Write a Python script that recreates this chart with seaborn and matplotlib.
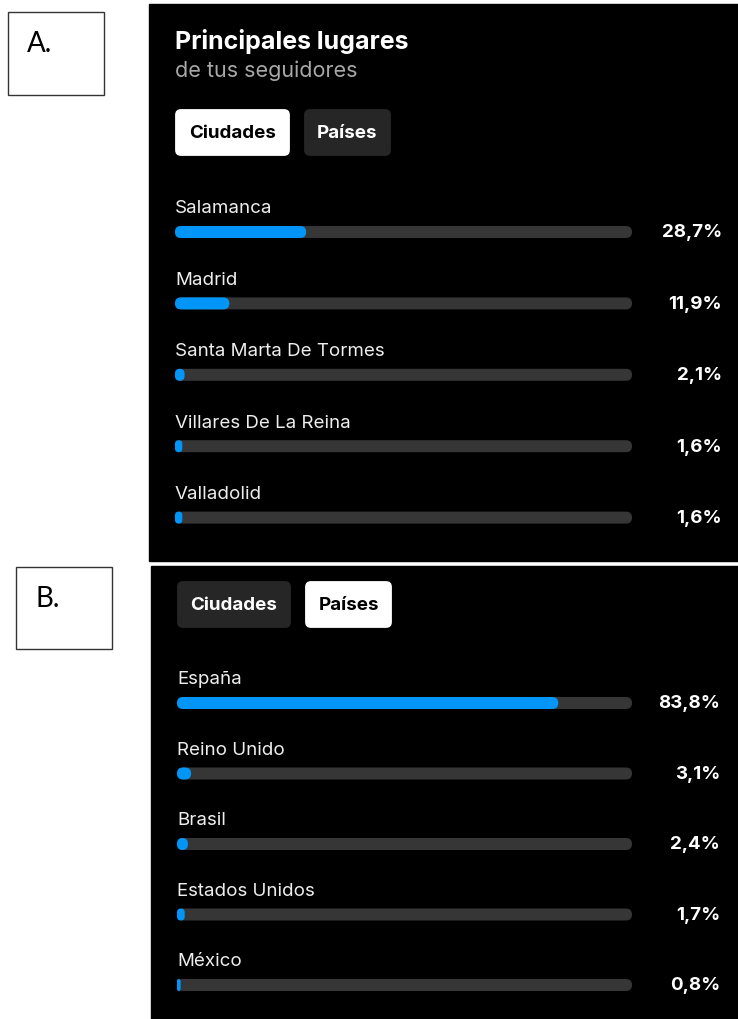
import pandas as pd
import matplotlib.pyplot as plt
import seaborn as sns
from matplotlib.patches import Rectangle, FancyBboxPatch

# data
ciudades = ['Salamanca', 'Madrid', 'Santa Marta De Tormes', 'Villares De La Reina', 'Valladolid']
ciudades_pct = [28.7, 11.9, 2.1, 1.6, 1.6]
paises = ['España', 'Reino Unido', 'Brasil', 'Estados Unidos', 'México']
paises_pct = [83.8, 3.1, 2.4, 1.7, 0.8]

BLUE = '#0095f6'
TRACK = '#363636'
W, H = 738, 1020

sns.set_theme(style='white')
plt.rcParams['font.family'] = ['Inter', 'DejaVu Sans']

fig = plt.figure(figsize=(W / 100, H / 100), dpi=100)
fig.patch.set_facecolor('white')


def px(x, y):
    # pixel position (from top-left) -> figure fraction
    return x / W, 1 - y / H


# black screenshot backgrounds
for (x0, y0, x1, y1) in [(149, 5, 738, 562), (151, 567, 738, 1020)]:
    fig.patches.append(Rectangle(px(x0, y1), (x1 - x0) / W, (y1 - y0) / H,
                                 transform=fig.transFigure, color='black', zorder=-2))

# A. / B. boxes
for lab, (x0, y0, x1, y1) in [('A.', (8, 13, 104, 96)), ('B.', (16, 568, 112, 650))]:
    fig.patches.append(Rectangle(px(x0, y1), (x1 - x0) / W, (y1 - y0) / H,
                                 transform=fig.transFigure, facecolor='white',
                                 edgecolor='#333333', lw=1.0, zorder=-1))
    fig.text(*px(x0 + 19, y0 + 31), lab, fontsize=20, family=['Lato', 'DejaVu Sans'],
             color='black', va='center', ha='left')

# title panel A
fig.text(*px(175, 42), 'Principales lugares', color='white', fontsize=18,
         fontweight='bold', va='center')
fig.text(*px(175, 71), 'de tus seguidores', color='#a8a8a8', fontsize=15.5, va='center')


def button(x0, y0, x1, y1, text, active):
    fc = 'white' if active else '#262626'
    tc = 'black' if active else 'white'
    fig.patches.append(FancyBboxPatch(px(x0 + 6, y1 - 6), (x1 - x0 - 12) / W, (y1 - y0 - 12) / H,
                                      boxstyle='round,pad=0.008,rounding_size=0.008',
                                      transform=fig.transFigure, facecolor=fc,
                                      edgecolor='none', zorder=-1, mutation_aspect=W / H))
    fig.text(*px((x0 + x1) / 2, (y0 + y1) / 2), text, color=tc, fontsize=13.5,
             fontweight='bold', ha='center', va='center')


button(175, 110, 290, 157, 'Ciudades', True)
button(304, 110, 391, 157, 'Países', False)
button(177, 582, 291, 629, 'Ciudades', False)
button(305, 582, 392, 629, 'Países', True)


def round_bars(ax, step, track_px):
    # swap seaborn's square bars for pill-shaped ones with the same extent
    xu = 100 / track_px           # data units per pixel along x
    yu = 1 / step                 # data units per pixel along y
    aspect = yu / xu
    for p in list(ax.patches):
        x, y = p.get_x(), p.get_y()
        w, h = p.get_width(), p.get_height()
        r = min(6 * xu, w / 2)
        pill = FancyBboxPatch((x, y), w, h, boxstyle=f'round,pad=0,rounding_size={r}',
                              mutation_aspect=aspect, facecolor=p.get_facecolor(),
                              edgecolor='none', zorder=p.get_zorder())
        p.remove()
        ax.add_patch(pill)


def panel(names, vals, x0, x1, y_first, step, val_x):
    top = y_first - step / 2
    bottom = y_first + step * 4.5
    l, b = px(x0, bottom)
    ax = fig.add_axes([l, b, (x1 - x0) / W, (bottom - top) / H])
    ax.set_zorder(5)
    ax.set_facecolor('none')
    df = pd.DataFrame({'lugar': names, 'pct': vals, 'total': [100] * len(vals)})
    bh = 12 / step
    sns.barplot(data=df, x='total', y='lugar', color=TRACK, width=bh, ax=ax, saturation=1)
    sns.barplot(data=df, x='pct', y='lugar', color=BLUE, width=bh, ax=ax, saturation=1)
    round_bars(ax, step, x1 - x0)
    ax.set_xlim(0, 100)
    ax.set_ylim(4.5, -0.5)
    ax.axis('off')
    vx = (val_x - x0) / (x1 - x0) * 100
    for i, (n, v) in enumerate(zip(names, vals)):
        ax.text(0, i - 24 / step, n, color='#eeeeee', fontsize=13.5, va='center',
                ha='left', clip_on=False)
        ax.text(vx, i, f'{v:.1f}%'.replace('.', ','), color='white', fontsize=13.5,
                fontweight='bold', va='center', ha='right', clip_on=False)
    return ax


panel(ciudades, ciudades_pct, 175, 632, 233, 71.4, 722)
panel(paises, paises_pct, 177, 632, 704, 70.5, 720)

plt.savefig('out.png', dpi=100, facecolor='white')
